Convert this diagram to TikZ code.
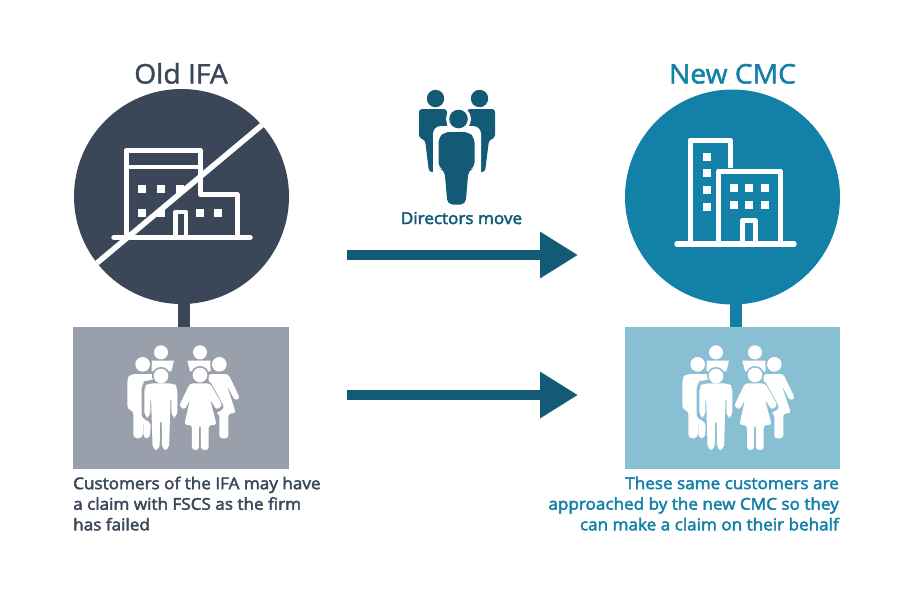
\documentclass[tikz,border=0pt]{standalone}
\usepackage{fontspec}
\setmainfont{Open Sans}
\newfontfamily\semi{Open Sans}[FakeBold=2.6,FakeStretch=1.05]
\newfontfamily\semit{Open Sans}[FakeBold=1.6,FakeStretch=1.045]
\usetikzlibrary{arrows.meta}
\definecolor{slatec}{HTML}{3B4659}
\definecolor{tealc}{HTML}{1380A8}
\definecolor{darkt}{HTML}{135A76}
\definecolor{greyb}{HTML}{9AA0AB}
\definecolor{blueb}{HTML}{89BFD2}
\tikzset{
 disc/.style={circle,inner sep=0,outer sep=0,minimum size=215pt},
 panel/.style={rectangle,inner sep=0,outer sep=0,minimum width=216pt,minimum height=142pt},
 stem/.style={line width=12pt},
 flow/.style={line width=10pt,darkt,-{Triangle[length=38pt,width=44pt]}},
 title/.style={font=\fontsize{27}{32}\selectfont\semit,inner sep=0},
 caption/.style={font=\fontsize{16.3}{20.6}\selectfont\semi,inner sep=0},
 bld/.style={draw=white,line width=5pt,line join=round,fill=none},
 gnd/.style={draw=white,line width=5.5pt,line cap=round},
 win/.style={fill=white},
}
\newcommand{\wins}[2]{\fill[win] (#1-4,#2-4) rectangle +(8,8);}
\newcommand{\crowd}[3]{%
\begin{scope}[shift={(#1,#2)},x=0.3333pt,y=-0.3333pt]
 % rear pair
 \fill[white] (183,67) circle[radius=21] (300,67) circle[radius=21];
 \fill[white] (155,92) -- (222,92) -- (214,124) -- (155,124) -- cycle;
 \fill[white] (262,92) -- (332,92) -- (332,124) -- (270,124) -- cycle;
 % back man
 \fill[#3] (128,103) circle[radius=27];
 \fill[white] (128,103) circle[radius=22];
 \fill[white,rounded corners=4pt] (82,240) -- (82,145) -- (92,132) -- (165,132) -- (150,325) -- (130,325) -- (130,240) -- (128,325) -- (100,325) -- (100,240) -- cycle;
 % back woman
 \fill[#3] (358,103) circle[radius=27];
 \fill[white] (358,103) circle[radius=22];
 \fill[white,rounded corners=3pt] (325,132) -- (385,132) -- (420,205) -- (405,212) -- (380,165) -- (408,250) -- (385,250) -- (385,325) -- (358,325) -- (358,250) -- (330,250) -- cycle;
 % front man halo + man
 \fill[#3,rounded corners=6pt] (125,270) -- (125,160) -- (140,150) -- (225,150) -- (240,160) -- (240,270) -- (213,270) -- (213,368) -- (152,368) -- (152,270) -- cycle;
 \fill[#3] (183,138) circle[radius=27];
 \fill[white] (183,138) circle[radius=22];
 \fill[white,rounded corners=5pt] (133,262) -- (133,170) -- (145,160) -- (220,160) -- (232,170) -- (232,262) -- (214,262) -- (214,195) -- (212,195) -- (207,360) -- (186,360) -- (185,265) -- (180,265) -- (179,360) -- (158,360) -- (153,195) -- (151,195) -- (151,262) -- cycle;
 % woman halo + woman
 \fill[#3,rounded corners=4pt] (272,150) -- (328,150) -- (375,235) -- (345,250) -- (362,295) -- (330,295) -- (330,368) -- (270,368) -- (270,295) -- (243,295) -- (255,250) -- (229,235) -- cycle;
 \fill[#3] (300,135) circle[radius=27];
 \fill[white] (300,135) circle[radius=22];
 \fill[white,rounded corners=3pt] (270,160) -- (330,160) -- (368,226) -- (350,240) -- (330,208) -- (350,285) -- (326,285) -- (326,360) -- (303,360) -- (303,285) -- (297,285) -- (297,360) -- (276,360) -- (276,285) -- (253,285) -- (270,208) -- (254,240) -- (237,228) -- cycle;
\end{scope}}
\begin{document}
\begin{tikzpicture}[x=1pt,y=-1pt]
\useasboundingbox (0,0) rectangle (920,598);
\fill[white] (0,0) rectangle (920,598);
\node[disc,fill=slatec] (oldc) at (181.5,196.5) {};
\node[disc,fill=tealc] (newc) at (732.5,197) {};
\node[panel,fill=greyb] (oldp) at (181,398) {};
\node[panel,fill=blueb,minimum width=215pt] (newp) at (732.5,398) {};
\path (oldc.center) ++(2.5,0) coordinate (os);
\path (newc.center) ++(3.5,0) coordinate (ns);
\draw[stem,slatec] (os) -- (os |- oldp.north);
\draw[stem,tealc] (ns) -- (ns |- newp.north);
% titles
\node[title,text=slatec,anchor=base] (t1) at (181,83.5) {Old IFA};
\node[title,text=tealc,anchor=base] (t2) at (732.5,83.5) {New CMC};
% old building
\draw[bld] (126,238) -- (126,150.5) -- (200.5,150.5) -- (200.5,194.5) -- (237,194.5) -- (237,238);
\draw[bld,line width=4pt] (126,166.5) -- (200.5,166.5);
\draw[bld,line width=4.5pt] (175.5,238) -- (175.5,212) -- (186,212) -- (186,238);
\wins{142}{189}\wins{161}{189}\wins{180}{189}
\wins{142}{213}\wins{161}{213}\wins{200}{213}\wins{218}{213}
\draw[gnd] (114,237.5) -- (250,237.5);
% slash
\coordinate (s1) at (97,263); \coordinate (s2) at (262,125);
\draw[white,line width=5.5pt] (s1) -- (s2);
% new building
\draw[bld] (690,243) -- (690,140) -- (730,140) -- (730,168);
\draw[bld] (718.5,243) -- (718.5,171) -- (780,171) -- (780,243);
\draw[bld] (742.5,243) -- (742.5,220.5) -- (755.5,220.5) -- (755.5,243);
\wins{707}{157}\wins{707}{173}\wins{707}{190}\wins{707}{207}
\wins{734}{188}\wins{749}{188}\wins{765}{188}
\wins{734}{205}\wins{749}{205}\wins{765}{205}
\draw[gnd] (677,244) -- (794,244);
% directors
\fill[darkt] (435.5,98.5) circle[radius=8.7] (479.5,98.5) circle[radius=8.7];
\fill[darkt,rounded corners=3pt] (419,109) -- (447,109) -- (447,170) -- (445,172) -- (429,172) -- (425,140) -- (419,138) -- cycle;
\fill[darkt,rounded corners=3pt] (495,109) -- (467,109) -- (467,170) -- (469,172) -- (485,172) -- (489,140) -- (495,138) -- cycle;
\fill[white,rounded corners=8pt] (433,200) -- (433,126) -- (481,126) -- (481,200) -- cycle;
\fill[white] (458.5,119) circle[radius=12.5];
\fill[darkt] (458.5,119) circle[radius=9.3];
\fill[darkt,rounded corners=5pt] (438.5,168) -- (438.5,138) -- (444.5,132) -- (468.5,132) -- (474.5,138) -- (474.5,168) -- (468.5,170) -- (465.5,204.5) -- (447.5,204.5) -- (444.5,170) -- cycle;
\node[caption,text=darkt,anchor=base] (dm) at (461.5,224) {Directors move};
% arrows
\coordinate (a1) at (347,255); \coordinate (a2) at (578,255);
\coordinate (b1) at (347,395); \coordinate (b2) at (578,395);
\draw[flow] (a1) -- (a2);
\draw[flow] (b1) -- (b2);
% crowds
\crowd{100}{330}{greyb}
\crowd{655}{330}{blueb}
% captions
\node[caption,text=slatec,align=left,anchor=north west] (c1) at (73,476.5) {Customers of the IFA may have\\a claim with FSCS as the firm\\has failed};
\node[caption,text=tealc,align=right,anchor=north east] (c2) at (839,476.5) {These same customers are\\approached by the new CMC so they\\can make a claim on their behalf};
\end{tikzpicture}
\end{document}
